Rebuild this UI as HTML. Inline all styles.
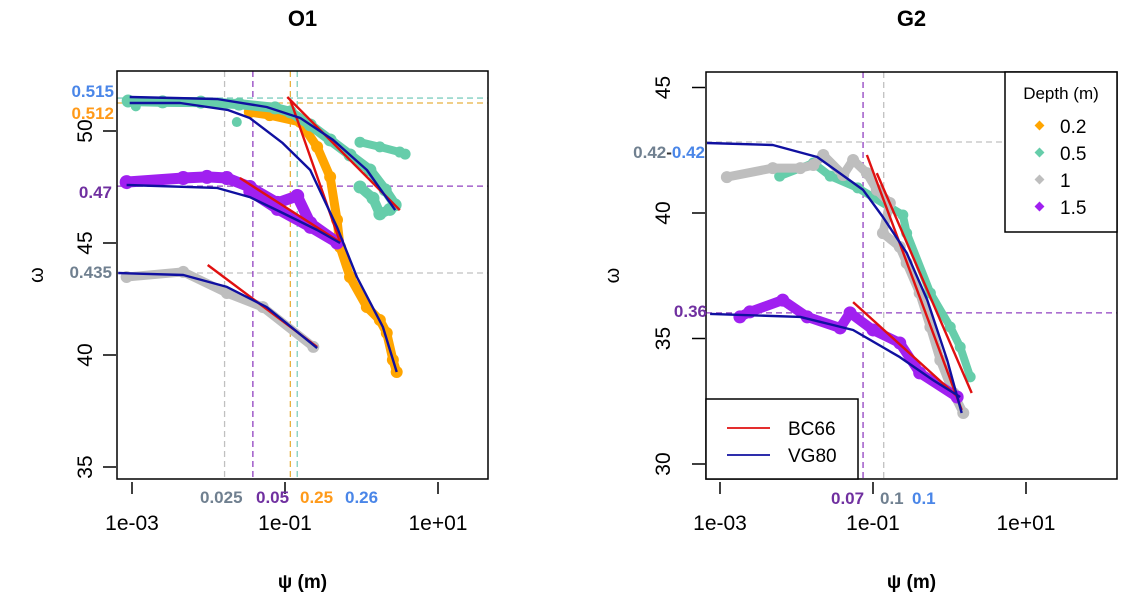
<!DOCTYPE html>
<html><head><meta charset="utf-8"><style>
html,body{margin:0;padding:0;background:#fff;}
svg{display:block;font-family:"Liberation Sans",sans-serif;}
</style></head><body>
<svg id="chart" width="1125" height="600" viewBox="0 0 1125 600">
<g id="left"></g>
<g id="right"></g>
</svg>
<script>
// ---------- data (x = log10 psi [m], y = theta*100) ----------
const xTickLabels = ["1e-03","1e-01","1e+01"];
const xTickLogs = [-3,-1,1];
const leftYTicks = [35,40,45,50];
const rightYTicks = [30,35,40,45];

// O1 observations
const o1Teal = [[-3.05,51.34],[-2.6,51.3],[-2.1,51.29],[-1.6,51.2],[-1.13,51.03],[-0.93,50.85],[-0.67,50.27],[-0.41,49.6],[-0.15,48.93],[0.11,48.26],[0.31,47.37],[0.44,46.7]];
const o1TealBranch = [[-0.02,49.5],[0.24,49.29],[0.5,49.06],[0.57,48.97]];
const o1TealCluster = [[-0.02,47.5],[0.15,47.0],[0.24,46.3],[0.37,46.5]];
const o1TealIso = [[-1.63,50.4],[-2.95,51.1]];
const o1Orange = [[-1.46,50.85],[-1.2,50.71],[-0.8,50.4],[-0.58,49.29],[-0.41,47.95],[-0.32,46.03],[-0.28,44.82],[-0.15,43.48],[0.07,42.14],[0.24,41.56],[0.33,40.98],[0.41,39.78],[0.46,39.24]];
const o1Purple = [[-3.07,47.72],[-2.33,47.9],[-2.02,47.95],[-1.76,47.9],[-1.46,47.5],[-1.1,46.79],[-0.84,47.1],[-0.67,45.89],[-0.32,45.04]];
const o1PurpleLow = [[-1.46,47.3],[-1.1,46.5],[-0.67,45.7],[-0.32,45.0]];
const o1Grey = [[-3.07,43.48],[-2.33,43.71],[-1.76,42.77],[-1.29,42.14],[-0.63,40.36]];
// O1 fits
const o1VgTeal = [[-3.03,51.52],[-1.89,51.43],[-1.24,51.07],[-0.8,50.58],[-0.37,49.6],[0.07,48.26],[0.44,46.47]];
const o1VgOrange = [[-3.03,51.25],[-2.37,51.25],[-1.75,50.94],[-1.46,50.58],[-1.03,49.46],[-0.67,48.26],[-0.32,45.71],[-0.06,43.48],[0.28,41.25],[0.46,39.24]];
const o1VgPurple = [[-3.07,47.59],[-1.89,47.46],[-1.46,47.05],[-1.03,46.34],[-0.58,45.58],[-0.28,45.0]];
const o1VgGrey = [[-3.18,43.66],[-2.33,43.57],[-1.76,43.04],[-1.24,42.14],[-0.58,40.31]];
const o1BcTeal = [[-0.97,51.52],[0.5,46.47]];
const o1BcOrange = [[-0.93,51.38],[-0.28,45.04]];
const o1BcPurple = [[-1.59,47.9],[-0.28,45.04]];
const o1BcGrey = [[-2.01,44.02],[-0.58,40.36]];
// O1 reference lines
const o1HLines = [51.47,51.25,47.54,43.66];
const o1VLines = [-1.79,-1.42,-0.93,-0.84];

// G2 observations
const g2Grey = [[-2.91,41.43],[-2.31,41.79],[-1.95,41.79],[-1.78,41.91],[-1.65,42.31],[-1.39,41.51],[-1.26,42.11],[-1.08,41.59],[-0.95,40.92],[-0.78,40.4],[-0.87,39.2],[-0.65,38.65],[-0.56,38.01],[-0.39,36.81],[-0.25,35.46],[-0.12,34.14],[0.05,32.83],[0.18,32.03]];
const g2Teal = [[-2.22,41.47],[-1.78,41.99],[-1.56,41.47],[-1.2,41.0],[-0.61,39.92],[-0.56,39.2],[-0.25,36.81],[0.01,35.46],[0.14,34.66],[0.27,33.47]];
const g2Purple = [[-2.74,35.86],[-2.61,36.06],[-2.18,36.53],[-1.86,35.86],[-1.43,35.42],[-1.3,36.02],[-1.0,35.34],[-0.65,34.82],[-0.39,33.63],[0.1,32.67]];
const g2VgGrey = [[-3.17,42.79],[-2.31,42.71],[-1.73,42.23],[-1.13,40.92],[-0.87,39.84],[-0.56,38.41],[-0.29,36.53],[-0.03,34.14],[0.16,32.03]];
const g2VgPurple = [[-3.13,35.98],[-1.95,35.86],[-1.26,35.34],[-0.65,34.26],[-0.22,33.35],[0.14,32.67]];
const g2BcGrey = [[-1.08,42.31],[0.16,32.15]];
const g2BcTeal = [[-0.95,41.59],[0.29,32.83]];
const g2BcPurple = [[-1.26,36.45],[0.11,32.67]];
const g2HLines = [42.83,36.02];
const g2VLines = [-1.13,-0.86];

const depthLabels = ["0.2","0.5","1","1.5"];
const fitLabels = ["BC66","VG80"];

// ---------- drawing ----------
const NS = "http://www.w3.org/2000/svg";
const C = {teal:"#66cdaa",orange:"#ffa500",grey:"#bebebe",purple:"#a020f0",blue:"#1010a0",red:"#e01010",dpurple:"#7030a0",slate:"#708090",lblue:"#4a86e8",lorange:"#ff9a1a"};
function mk(tag, attrs, parent){const e=document.createElementNS(NS,tag);for(const k in attrs)e.setAttribute(k,attrs[k]);parent.appendChild(e);return e;}

function panel(g, box, xs, ys, yTicks, title, yLabOff, omegaX){
  mk("rect",{x:box.l,y:box.t,width:box.r-box.l,height:box.b-box.t,fill:"none",stroke:"#000","stroke-width":1.5},g);
  const t=mk("text",{x:(box.l+box.r)/2,y:26,"text-anchor":"middle","font-size":22,"font-weight":"bold"},g);
  t.textContent=title;
  
  
  xTickLogs.forEach((v,i)=>{
    const x=xs(v);
    mk("line",{x1:x,y1:box.b+3,x2:x,y2:box.b+15,stroke:"#000","stroke-width":1.5},g);
    const tl=mk("text",{x:x,y:530,"text-anchor":"middle","font-size":21},g);
    tl.textContent=xTickLabels[i];
    
    
  });
  yTicks.forEach(v=>{
    const y=ys(v);
    mk("line",{x1:box.l-14,y1:y,x2:box.l-1,y2:y,stroke:"#000","stroke-width":1.5},g);
    const lx=box.l-yLabOff;
    const tl=mk("text",{x:lx,y:y+7,"text-anchor":"middle","font-size":21,transform:`rotate(-90 ${lx} ${y})`},g);
    tl.textContent=String(v);
    
    
  });
  const xt=mk("text",{x:(box.l+box.r)/2,y:588,"text-anchor":"middle","font-size":19,"font-weight":"bold"},g);
  xt.textContent="ψ (m)";
  
  
  const yy=(box.t+box.b)/2;
  const yt=mk("text",{x:omegaX,y:yy+7,"text-anchor":"middle","font-size":20,transform:`rotate(-90 ${omegaX} ${yy})`},g);
  yt.textContent="ω";
  
  
}
function hline(g,box,ys,v,col){mk("line",{x1:box.l,y1:ys(v),x2:box.r,y2:ys(v),stroke:col,"stroke-width":1.3,"stroke-dasharray":"6,4"},g);}
function vline(g,box,xs,v,col){mk("line",{x1:xs(v),y1:box.t,x2:xs(v),y2:box.b,stroke:col,"stroke-width":1.3,"stroke-dasharray":"6,4"},g);}
function pts(arr,xs,ys){return arr.map(p=>xs(p[0]).toFixed(1)+","+ys(p[1]).toFixed(1)).join(" ");}
function scatter(g,arr,xs,ys,col,w,name,noLine){
  if(!noLine){
    const pl=mk("polyline",{points:pts(arr,xs,ys),fill:"none",stroke:col,"stroke-width":w,"stroke-linecap":"round","stroke-linejoin":"round"},g);
    
    
  }
  arr.forEach(p=>{
    const c=mk("circle",{cx:xs(p[0]),cy:ys(p[1]),r:w/2+1.5,fill:col},g);
    
    
  });
}
function fit(g,arr,xs,ys,col,name){
  const pl=mk("polyline",{points:pts(arr,xs,ys),fill:"none",stroke:col,"stroke-width":2.4,"stroke-linejoin":"round"},g);
  
  
}
function label(g,x,y,txt,col,anchor,name){
  const t=mk("text",{x:x,y:y,fill:col,"font-size":17,"font-weight":"bold","text-anchor":anchor||"start"},g);
  t.textContent=txt;
  
  
  return t;
}

// ---- O1 ----
(function(){
  const g=document.getElementById("left");
  const box={l:117,t:71,r:488,b:479};
  const xs=v=>285+(v+1)*76.5;
  const ys=v=>131+(50-v)*22.4;
  const ov=mk("g",{},g);
  hline(ov,box,ys,o1HLines[0],"#80cfc0");hline(ov,box,ys,o1HLines[1],"#e8b040");
  hline(ov,box,ys,o1HLines[2],"#9040c0");hline(ov,box,ys,o1HLines[3],"#c0c0c0");
  vline(ov,box,xs,o1VLines[0],"#c0c0c0");vline(ov,box,xs,o1VLines[1],"#9040c0");
  vline(ov,box,xs,o1VLines[2],"#e8b040");vline(ov,box,xs,o1VLines[3],"#80cfc0");
  scatter(g,o1Orange,xs,ys,C.orange,9,"o1-depth-0.2");
  scatter(g,o1Teal,xs,ys,C.teal,10,"o1-depth-0.5");
  scatter(g,o1TealBranch,xs,ys,C.teal,8,"o1-depth-0.5-branch");
  scatter(g,o1TealCluster,xs,ys,C.teal,10,"o1-depth-0.5-cluster");
  scatter(g,o1TealIso,xs,ys,C.teal,7,"o1-depth-0.5-isolated",true);
  scatter(g,o1Purple,xs,ys,C.purple,11,"o1-depth-1.5");
  scatter(g,o1PurpleLow,xs,ys,C.purple,10,"o1-depth-1.5-lower");
  scatter(g,o1Grey,xs,ys,C.grey,9,"o1-depth-1");
  fit(g,o1BcTeal,xs,ys,C.red,"o1-bc66-0.5");fit(g,o1BcOrange,xs,ys,C.red,"o1-bc66-0.2");
  fit(g,o1BcPurple,xs,ys,C.red,"o1-bc66-1.5");fit(g,o1BcGrey,xs,ys,C.red,"o1-bc66-1");
  fit(g,o1VgTeal,xs,ys,C.blue,"o1-vg80-0.5");fit(g,o1VgOrange,xs,ys,C.blue,"o1-vg80-0.2");
  fit(g,o1VgPurple,xs,ys,C.blue,"o1-vg80-1.5");fit(g,o1VgGrey,xs,ys,C.blue,"o1-vg80-1");
  panel(g,box,xs,ys,leftYTicks,"O1",32,36);
  label(g,114,97,"0.515",C.lblue,"end","annot-0.515");
  label(g,114,119,"0.512",C.lorange,"end","annot-0.512");
  label(g,112,198,"0.47",C.dpurple,"end","annot-0.47");
  label(g,112,278,"0.435",C.slate,"end","annot-0.435");
  label(g,200,503,"0.025",C.slate,"start","annot-0.025");
  label(g,256,503,"0.05",C.dpurple,"start","annot-0.05");
  label(g,300,503,"0.25",C.lorange,"start","annot-0.25");
  label(g,345,503,"0.26",C.lblue,"start","annot-0.26");
})();

// ---- G2 ----
(function(){
  const g=document.getElementById("right");
  const box={l:706,t:72,r:1117,b:479};
  const xs=v=>873+(v+1)*76.5;
  const ys=v=>213+(40-v)*25.1;
  const ov=mk("g",{},g);
  hline(ov,box,ys,g2HLines[0],"#c0c0c0");hline(ov,box,ys,g2HLines[1],"#9040c0");
  vline(ov,box,xs,g2VLines[0],"#9040c0");vline(ov,box,xs,g2VLines[1],"#c0c0c0");
  scatter(g,g2Teal,xs,ys,C.teal,8,"g2-depth-0.5");
  scatter(g,g2Grey,xs,ys,C.grey,9,"g2-depth-1");
  scatter(g,g2Purple,xs,ys,C.purple,10,"g2-depth-1.5");
  fit(g,g2BcGrey,xs,ys,C.red,"g2-bc66-1");fit(g,g2BcTeal,xs,ys,C.red,"g2-bc66-0.5");
  fit(g,g2BcPurple,xs,ys,C.red,"g2-bc66-1.5");
  fit(g,g2VgGrey,xs,ys,C.blue,"g2-vg80-1");fit(g,g2VgPurple,xs,ys,C.blue,"g2-vg80-1.5");
  panel(g,box,xs,ys,rightYTicks,"G2",43,612);
  // depth legend
  const lg=mk("g",{},g);
  
  
  mk("rect",{x:1005,y:72,width:112,height:160,fill:"#fff",stroke:"#000","stroke-width":1.5},lg);
  const lt=mk("text",{x:1061,y:99,"text-anchor":"middle","font-size":17},lg);lt.textContent="Depth (m)";
  const cols=[C.orange,C.teal,C.grey,C.purple];
  depthLabels.forEach((d,i)=>{
    const y=126+i*27;
    const dm=mk("rect",{x:1036,y:y-4,width:7,height:7,fill:cols[i],transform:`rotate(45 1039.5 ${y-0.5})`},lg);
    
    
    const tx=mk("text",{x:1060,y:y+7,"font-size":19},lg);tx.textContent=d;
    
    
  });
  // fit legend
  const fg=mk("g",{},g);
  
  
  mk("rect",{x:706,y:399,width:152,height:80,fill:"#fff",stroke:"#000","stroke-width":1.5},fg);
  [C.red,C.blue].forEach((c,i)=>{
    const y=428+i*27;
    mk("line",{x1:727,y1:y,x2:770,y2:y,stroke:c,"stroke-width":1.8},fg);
    const tx=mk("text",{x:788,y:y+7,"font-size":19},fg);tx.textContent=fitLabels[i];
    
    
  });
  // annotations
  const a=mk("text",{x:705,y:158,"font-size":17,"font-weight":"bold","text-anchor":"end"},g);
  
  
  const s1=mk("tspan",{fill:C.slate},a);s1.textContent="0.42";
  const s2=mk("tspan",{fill:"#333"},a);s2.textContent="-";
  const s3=mk("tspan",{fill:C.lblue},a);s3.textContent="0.42";
  label(g,707,317,"0.36",C.dpurple,"end","annot-0.36");
  label(g,831,504,"0.07",C.dpurple,"start","annot-0.07");
  label(g,880,504,"0.1",C.slate,"start","annot-0.1-grey");
  label(g,912,504,"0.1",C.lblue,"start","annot-0.1-blue");
})();
</script>
</body></html>
